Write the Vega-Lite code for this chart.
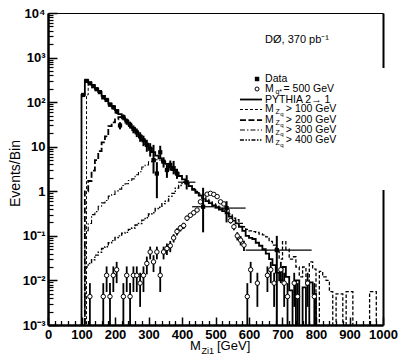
{
"$schema":"https://vega.github.io/schema/vega-lite/v6.json",
"width":335,"height":312,
"autosize":{"type":"none"},
"padding":{"left":48,"top":13,"right":19,"bottom":36},
"background":"white",
"config":{"view":{"stroke":null},"axis":{"domainColor":"black","tickColor":"black","labelColor":"black","titleColor":"black","grid":false}},
"resolve":{"axis":{"x":"independent","y":"independent"}},
"datasets":{
"hist":[
{"s":"PY","x":90,"v":1e-5},{"s":"PY","x":100,"v":145},{"s":"PY","x":110,"v":310},{"s":"PY","x":120,"v":275},{"s":"PY","x":130,"v":240},{"s":"PY","x":140,"v":200},{"s":"PY","x":150,"v":168},{"s":"PY","x":160,"v":138},{"s":"PY","x":170,"v":115},{"s":"PY","x":180,"v":93},{"s":"PY","x":190,"v":80},{"s":"PY","x":200,"v":66},{"s":"PY","x":210,"v":54},{"s":"PY","x":220,"v":45},{"s":"PY","x":230,"v":38},{"s":"PY","x":240,"v":31},{"s":"PY","x":250,"v":26},{"s":"PY","x":260,"v":21},{"s":"PY","x":270,"v":17.5},{"s":"PY","x":280,"v":14},{"s":"PY","x":290,"v":11.5},{"s":"PY","x":300,"v":9.2},{"s":"PY","x":310,"v":7.6},{"s":"PY","x":320,"v":6.3},{"s":"PY","x":330,"v":5.5},{"s":"PY","x":340,"v":4.6},{"s":"PY","x":350,"v":4.1},{"s":"PY","x":360,"v":3.5},{"s":"PY","x":370,"v":3.0},{"s":"PY","x":380,"v":2.6},{"s":"PY","x":390,"v":2.2},{"s":"PY","x":400,"v":1.85},{"s":"PY","x":410,"v":1.5},{"s":"PY","x":420,"v":1.3},{"s":"PY","x":430,"v":1.08},{"s":"PY","x":440,"v":0.92},{"s":"PY","x":450,"v":0.8},{"s":"PY","x":460,"v":0.7},{"s":"PY","x":470,"v":0.6},{"s":"PY","x":480,"v":0.54},{"s":"PY","x":490,"v":0.48},{"s":"PY","x":500,"v":0.44},{"s":"PY","x":510,"v":0.39},{"s":"PY","x":520,"v":0.36},{"s":"PY","x":530,"v":0.32},{"s":"PY","x":540,"v":0.27},{"s":"PY","x":550,"v":0.22},{"s":"PY","x":560,"v":0.19},{"s":"PY","x":570,"v":0.16},{"s":"PY","x":580,"v":0.13},{"s":"PY","x":590,"v":0.1},{"s":"PY","x":600,"v":0.09},{"s":"PY","x":610,"v":0.085},{"s":"PY","x":620,"v":0.07},{"s":"PY","x":630,"v":0.06},{"s":"PY","x":640,"v":0.05},{"s":"PY","x":650,"v":0.04},{"s":"PY","x":660,"v":0.03},{"s":"PY","x":670,"v":0.022},{"s":"PY","x":680,"v":0.015},{"s":"PY","x":690,"v":0.01},{"s":"PY","x":700,"v":0.02},{"s":"PY","x":710,"v":0.012},{"s":"PY","x":720,"v":0.006},{"s":"PY","x":730,"v":1e-5},{"s":"PY","x":740,"v":0.01},{"s":"PY","x":750,"v":1e-5},{"s":"PY","x":760,"v":0.007},{"s":"PY","x":770,"v":1e-5},{"s":"PY","x":780,"v":0.009},{"s":"PY","x":790,"v":0.005},{"s":"PY","x":800,"v":1e-5},
{"s":"Z100","x":100,"v":1e-5},{"s":"Z100","x":115,"v":145},{"s":"Z100","x":120,"v":275},
{"s":"Z200","x":100,"v":1e-5},{"s":"Z200","x":110,"v":1.0},{"s":"Z200","x":120,"v":1.7},{"s":"Z200","x":130,"v":2.9},{"s":"Z200","x":140,"v":5},{"s":"Z200","x":150,"v":8},{"s":"Z200","x":160,"v":12.5},{"s":"Z200","x":170,"v":17},{"s":"Z200","x":180,"v":29},{"s":"Z200","x":190,"v":35},{"s":"Z200","x":200,"v":41},{"s":"Z200","x":210,"v":46},{"s":"Z200","x":220,"v":45},
{"s":"Z300","x":100,"v":1e-5},{"s":"Z300","x":110,"v":0.13},{"s":"Z300","x":120,"v":0.19},{"s":"Z300","x":130,"v":0.3},{"s":"Z300","x":140,"v":0.35},{"s":"Z300","x":150,"v":0.46},{"s":"Z300","x":160,"v":0.55},{"s":"Z300","x":170,"v":0.62},{"s":"Z300","x":180,"v":0.78},{"s":"Z300","x":190,"v":0.85},{"s":"Z300","x":200,"v":1.02},{"s":"Z300","x":210,"v":1.12},{"s":"Z300","x":220,"v":1.35},{"s":"Z300","x":230,"v":1.48},{"s":"Z300","x":240,"v":1.75},{"s":"Z300","x":250,"v":1.9},{"s":"Z300","x":260,"v":2.35},{"s":"Z300","x":270,"v":2.75},{"s":"Z300","x":280,"v":3.5},{"s":"Z300","x":290,"v":3.9},{"s":"Z300","x":300,"v":4.6},{"s":"Z300","x":310,"v":4.7},{"s":"Z300","x":320,"v":5.1},{"s":"Z300","x":330,"v":5.0},{"s":"Z300","x":340,"v":4.6},
{"s":"Z400","x":100,"v":1e-5},{"s":"Z400","x":110,"v":0.02},{"s":"Z400","x":120,"v":0.024},{"s":"Z400","x":130,"v":0.029},{"s":"Z400","x":140,"v":0.037},{"s":"Z400","x":150,"v":0.043},{"s":"Z400","x":160,"v":0.052},{"s":"Z400","x":170,"v":0.057},{"s":"Z400","x":180,"v":0.07},{"s":"Z400","x":190,"v":0.078},{"s":"Z400","x":200,"v":0.092},{"s":"Z400","x":210,"v":0.1},{"s":"Z400","x":220,"v":0.115},{"s":"Z400","x":230,"v":0.12},{"s":"Z400","x":240,"v":0.14},{"s":"Z400","x":250,"v":0.15},{"s":"Z400","x":260,"v":0.175},{"s":"Z400","x":270,"v":0.19},{"s":"Z400","x":280,"v":0.225},{"s":"Z400","x":290,"v":0.255},{"s":"Z400","x":300,"v":0.31},{"s":"Z400","x":310,"v":0.33},{"s":"Z400","x":320,"v":0.41},{"s":"Z400","x":330,"v":0.44},{"s":"Z400","x":340,"v":0.53},{"s":"Z400","x":350,"v":0.6},{"s":"Z400","x":360,"v":0.77},{"s":"Z400","x":370,"v":0.9},{"s":"Z400","x":380,"v":1.18},{"s":"Z400","x":390,"v":1.35},{"s":"Z400","x":400,"v":1.6},{"s":"Z400","x":410,"v":1.5},{"s":"Z400","x":420,"v":1.3},
{"s":"ZT","x":420,"v":1.3},{"s":"ZT","x":430,"v":1.15},{"s":"ZT","x":440,"v":1.0},{"s":"ZT","x":450,"v":0.86},{"s":"ZT","x":460,"v":0.76},{"s":"ZT","x":470,"v":0.66},{"s":"ZT","x":480,"v":0.6},{"s":"ZT","x":490,"v":0.52},{"s":"ZT","x":500,"v":0.48},{"s":"ZT","x":510,"v":0.44},{"s":"ZT","x":520,"v":0.4},{"s":"ZT","x":530,"v":0.36},{"s":"ZT","x":540,"v":0.31},{"s":"ZT","x":550,"v":0.25},{"s":"ZT","x":560,"v":0.23},{"s":"ZT","x":570,"v":0.19},{"s":"ZT","x":580,"v":0.16},{"s":"ZT","x":590,"v":0.14},{"s":"ZT","x":600,"v":0.13},{"s":"ZT","x":610,"v":0.125},{"s":"ZT","x":620,"v":0.12},{"s":"ZT","x":630,"v":0.11},{"s":"ZT","x":640,"v":0.105},{"s":"ZT","x":650,"v":0.095},{"s":"ZT","x":660,"v":0.075},{"s":"ZT","x":670,"v":0.062},{"s":"ZT","x":680,"v":0.045},{"s":"ZT","x":690,"v":0.03},{"s":"ZT","x":700,"v":0.074},{"s":"ZT","x":710,"v":0.05},{"s":"ZT","x":720,"v":0.03},{"s":"ZT","x":730,"v":0.034},{"s":"ZT","x":740,"v":0.02},{"s":"ZT","x":750,"v":0.012},{"s":"ZT","x":760,"v":0.02},{"s":"ZT","x":770,"v":0.008},{"s":"ZT","x":780,"v":0.026},{"s":"ZT","x":790,"v":0.018},{"s":"ZT","x":800,"v":1e-5},{"s":"ZT","x":810,"v":0.016},{"s":"ZT","x":820,"v":0.012},{"s":"ZT","x":830,"v":0.01},{"s":"ZT","x":840,"v":0.0056},{"s":"ZT","x":850,"v":1e-5},{"s":"ZT","x":860,"v":0.005},{"s":"ZT","x":870,"v":0.005},{"s":"ZT","x":880,"v":1e-5},{"s":"ZT","x":890,"v":0.0056},{"s":"ZT","x":900,"v":0.0056},{"s":"ZT","x":910,"v":1e-5},{"s":"ZT","x":960,"v":0.0056},{"s":"ZT","x":970,"v":0.0056},{"s":"ZT","x":980,"v":1e-5}
],
"sig":[
{"m":125,"v":0.00435,"lo":1e-5,"hi":0.0087},{"m":165,"v":0.00435,"lo":1e-5,"hi":0.0087},{"m":175,"v":0.013,"lo":0.0055,"hi":0.0206},{"m":185,"v":0.00435,"lo":1e-5,"hi":0.0087},{"m":195,"v":0.013,"lo":0.0055,"hi":0.0206},{"m":205,"v":0.0174,"lo":0.0087,"hi":0.0261},{"m":225,"v":0.00435,"lo":1e-5,"hi":0.0087},{"m":235,"v":0.013,"lo":0.0055,"hi":0.0206},{"m":245,"v":0.00435,"lo":1e-5,"hi":0.0087},{"m":255,"v":0.013,"lo":0.0055,"hi":0.0206},{"m":265,"v":0.013,"lo":0.0055,"hi":0.0206},{"m":275,"v":0.0087,"lo":0.00255,"hi":0.01485},{"m":285,"v":0.013,"lo":0.0055,"hi":0.0206},{"m":295,"v":0.024,"lo":0.0137,"hi":0.0343},{"m":305,"v":0.0435,"lo":0.0297,"hi":0.0573},{"m":315,"v":0.0261,"lo":0.0154,"hi":0.0368},{"m":325,"v":0.0435,"lo":0.0297,"hi":0.0573},{"m":335,"v":0.013,"lo":0.0055,"hi":0.0206},{"m":345,"v":0.0435,"lo":0.0297,"hi":0.0573},{"m":355,"v":0.052,"lo":0.037,"hi":0.067},{"m":365,"v":0.06,"lo":0.043,"hi":0.077},{"m":375,"v":0.09,"lo":0.071,"hi":0.109},{"m":385,"v":0.125,"lo":0.102,"hi":0.148},{"m":395,"v":0.15,"lo":0.125,"hi":0.175},{"m":405,"v":0.17,"lo":0.143,"hi":0.197},{"m":415,"v":0.25,"lo":0.217,"hi":0.283},{"m":425,"v":0.29,"lo":0.255,"hi":0.325},{"m":435,"v":0.33,"lo":0.292,"hi":0.368},{"m":445,"v":0.38,"lo":0.339,"hi":0.421},{"m":455,"v":0.58,"lo":0.53,"hi":0.63},{"m":465,"v":0.75,"lo":0.693,"hi":0.807},{"m":475,"v":0.86,"lo":0.8,"hi":0.92},{"m":485,"v":0.9,"lo":0.837,"hi":0.963},{"m":495,"v":0.85,"lo":0.789,"hi":0.911},{"m":505,"v":0.76,"lo":0.702,"hi":0.818},{"m":515,"v":0.58,"lo":0.53,"hi":0.63},{"m":525,"v":0.52,"lo":0.472,"hi":0.568},{"m":535,"v":0.37,"lo":0.33,"hi":0.41},{"m":545,"v":0.22,"lo":0.189,"hi":0.251},{"m":555,"v":0.16,"lo":0.134,"hi":0.186},{"m":565,"v":0.1,"lo":0.079,"hi":0.121},{"m":575,"v":0.08,"lo":0.061,"hi":0.099},{"m":585,"v":0.062,"lo":0.046,"hi":0.078},{"m":595,"v":0.00435,"lo":1e-5,"hi":0.0087},{"m":605,"v":0.0174,"lo":0.0087,"hi":0.0261},{"m":625,"v":0.0087,"lo":0.00255,"hi":0.01485},{"m":655,"v":0.013,"lo":0.0055,"hi":0.0206},{"m":665,"v":0.0174,"lo":0.0087,"hi":0.0261},{"m":675,"v":0.0087,"lo":0.00255,"hi":0.01485},{"m":695,"v":0.0174,"lo":0.0087,"hi":0.0261},{"m":705,"v":0.0087,"lo":0.00255,"hi":0.01485},{"m":715,"v":0.00435,"lo":1e-5,"hi":0.0087},{"m":735,"v":0.0087,"lo":0.00255,"hi":0.01485},{"m":745,"v":0.00435,"lo":1e-5,"hi":0.0087},{"m":775,"v":0.0087,"lo":0.00255,"hi":0.01485},{"m":795,"v":0.00435,"lo":1e-5,"hi":0.0087}
],
"obs":[
{"m":105,"v":145,"lo":133,"hi":157},{"m":115,"v":300,"lo":283,"hi":317},{"m":125,"v":265,"lo":249,"hi":281},{"m":135,"v":228,"lo":213,"hi":243},{"m":145,"v":195,"lo":181,"hi":209},{"m":155,"v":168,"lo":155,"hi":181},{"m":165,"v":128,"lo":117,"hi":139},{"m":175,"v":112,"lo":101,"hi":123},{"m":185,"v":88,"lo":79,"hi":97},{"m":195,"v":77,"lo":68,"hi":86},{"m":205,"v":62,"lo":54,"hi":70},{"m":215,"v":30,"lo":24.5,"hi":35.5},{"m":225,"v":46,"lo":39,"hi":53},{"m":235,"v":37,"lo":31,"hi":43},{"m":245,"v":31,"lo":25.5,"hi":36.5},{"m":255,"v":25,"lo":20,"hi":30},{"m":265,"v":21,"lo":16.4,"hi":25.6},{"m":275,"v":17,"lo":12.9,"hi":21.1},{"m":285,"v":14,"lo":10.3,"hi":17.7},{"m":295,"v":11,"lo":7.7,"hi":14.3},{"m":305,"v":9,"lo":6,"hi":12},{"m":315,"v":5,"lo":2.5,"hi":11},{"m":325,"v":2.5,"lo":0.7,"hi":4.5},{"m":335,"v":7.5,"lo":5.5,"hi":10.5},{"m":345,"v":4.6,"lo":3.4,"hi":5.8},{"m":355,"v":3.0,"lo":2.0,"hi":4.0},{"m":365,"v":3.9,"lo":2.9,"hi":4.9},{"m":375,"v":3.3,"lo":2.4,"hi":4.8},{"m":385,"v":2.5,"lo":1.9,"hi":3.2},
{"m":414,"v":1.6,"lo":1.1,"hi":2.3,"xlo":388,"xhi":440},{"m":463,"v":0.45,"lo":0.12,"hi":1.2,"xlo":430,"xhi":497},{"m":533,"v":0.42,"lo":0.2,"hi":0.6,"xlo":497,"xhi":590},{"m":683,"v":0.048,"lo":1e-5,"hi":0.1,"xlo":590,"xhi":787}
],
"one":[{}]
},
"layer":[
{"data":{"name":"hist"},"transform":[{"filter":"datum.s == 'ZT'"}],
 "mark":{"type":"line","interpolate":"step-after","clip":true,"color":"black","strokeWidth":1.3,"strokeDash":[3.5,2]},
 "encoding":{"x":{"field":"x","type":"quantitative","scale":{"domain":[0,1000],"nice":false,"zero":false},"axis":null},"y":{"field":"v","type":"quantitative","scale":{"type":"log","domain":[0.001,10000],"nice":false},"axis":null}}},
{"data":{"name":"hist"},"transform":[{"filter":"datum.s == 'PY'"}],
 "mark":{"type":"line","interpolate":"step-after","clip":true,"color":"black","strokeWidth":1.8},
 "encoding":{"x":{"field":"x","type":"quantitative","scale":{"domain":[0,1000],"nice":false,"zero":false},
   "axis":{"orient":"bottom","values":[0,100,200,300,400,500,600,700,800,900,1000],"format":"d","tickSize":-8,"tickWidth":1.5,"domainWidth":2.5,"labelFont":"Liberation Sans","labelFontSize":13,"labelFontWeight":"bold","labelPadding":11,"labelFlush":false,"labelOverlap":false,"title":null,"grid":false}},
  "y":{"field":"v","type":"quantitative","scale":{"type":"log","domain":[0.001,10000],"nice":false},
   "axis":{"orient":"left","values":[0.001,0.01,0.1,1,10,100,1000,10000],"labelExpr":"datum.value >= 9999 ? '10⁴' : datum.value >= 999 ? '10³' : datum.value >= 99 ? '10²' : datum.value >= 9 ? '10' : datum.value >= 0.9 ? '1' : datum.value >= 0.09 ? '10⁻¹' : datum.value >= 0.009 ? '10⁻²' : '10⁻³'","tickSize":-9,"tickWidth":1.5,"domainWidth":2.5,"labelFont":"Liberation Sans","labelFontSize":13,"labelFontWeight":"bold","labelPadding":12,"labelFlush":false,"labelOverlap":false,"title":"Events/Bin","titleFont":"Liberation Sans","titleFontSize":14,"titleFontWeight":"normal","titleX":-33,"titleY":160,"titleAngle":-90,"titleBaseline":"middle","titleAlign":"center","grid":false}}}},
{"data":{"name":"hist"},"transform":[{"filter":"datum.s == 'Z100'"}],
 "mark":{"type":"line","interpolate":"step-after","clip":true,"color":"black","strokeWidth":1,"strokeDash":[3,2]},
 "encoding":{"x":{"field":"x","type":"quantitative","scale":{"domain":[0,1000],"nice":false,"zero":false},
   "axis":{"orient":"bottom","values":[20,40,60,80,120,140,160,180,220,240,260,280,320,340,360,380,420,440,460,480,520,540,560,580,620,640,660,680,720,740,760,780,820,840,860,880,920,940,960,980],"tickSize":-4.5,"tickWidth":1.3,"labels":false,"domain":false,"title":null,"grid":false}},
  "y":{"field":"v","type":"quantitative","scale":{"type":"log","domain":[0.001,10000],"nice":false},
   "axis":{"orient":"left","values":[0.002,0.003,0.004,0.005,0.006,0.007,0.008,0.009,0.02,0.03,0.04,0.05,0.06,0.07,0.08,0.09,0.2,0.3,0.4,0.5,0.6,0.7,0.8,0.9,2,3,4,5,6,7,8,9,20,30,40,50,60,70,80,90,200,300,400,500,600,700,800,900,2000,3000,4000,5000,6000,7000,8000,9000],"tickSize":-5,"tickWidth":1.2,"labels":false,"domain":false,"title":null,"grid":false}}}},
{"data":{"name":"hist"},"transform":[{"filter":"datum.s == 'Z200'"}],
 "mark":{"type":"line","interpolate":"step-after","clip":true,"color":"black","strokeWidth":1.8,"strokeDash":[6,2.5]},
 "encoding":{"x":{"field":"x","type":"quantitative","scale":{"domain":[0,1000],"nice":false,"zero":false},
   "axis":{"orient":"top","domainWidth":1,"ticks":false,"labels":false,"title":null,"grid":false}},
  "y":{"field":"v","type":"quantitative","scale":{"type":"log","domain":[0.001,10000],"nice":false},
   "axis":{"orient":"right","domainWidth":2,"ticks":false,"labels":false,"title":null,"grid":false}}}},
{"data":{"name":"hist"},"transform":[{"filter":"datum.s == 'Z300'"}],
 "mark":{"type":"line","interpolate":"step-after","clip":true,"color":"black","strokeWidth":1.1,"strokeDash":[5,2,1.5,2]},
 "encoding":{"x":{"field":"x","type":"quantitative","scale":{"domain":[0,1000],"nice":false,"zero":false},"axis":null},"y":{"field":"v","type":"quantitative","scale":{"type":"log","domain":[0.001,10000],"nice":false},"axis":null}}},
{"data":{"name":"hist"},"transform":[{"filter":"datum.s == 'Z400'"}],
 "mark":{"type":"line","interpolate":"step-after","clip":true,"color":"black","strokeWidth":1.4,"strokeDash":[4,1.5,1.5,1.5,1.5,1.5]},
 "encoding":{"x":{"field":"x","type":"quantitative","scale":{"domain":[0,1000],"nice":false,"zero":false},"axis":null},"y":{"field":"v","type":"quantitative","scale":{"type":"log","domain":[0.001,10000],"nice":false},"axis":null}}},
{"data":{"name":"sig"},
 "mark":{"type":"rule","clip":true,"color":"black","strokeWidth":1.8},
 "encoding":{"x":{"field":"m","type":"quantitative","scale":{"domain":[0,1000],"nice":false,"zero":false},"axis":null},"y":{"field":"lo","type":"quantitative","scale":{"type":"log","domain":[0.001,10000],"nice":false},"axis":null},"y2":{"field":"hi"}}},
{"data":{"name":"sig"},
 "mark":{"type":"point","shape":"circle","size":20,"filled":true,"fill":"white","stroke":"black","strokeWidth":1,"opacity":1,"clip":true},
 "encoding":{"x":{"field":"m","type":"quantitative","scale":{"domain":[0,1000],"nice":false,"zero":false},"axis":null},"y":{"field":"v","type":"quantitative","scale":{"type":"log","domain":[0.001,10000],"nice":false},"axis":null}}},
{"data":{"name":"obs"},
 "mark":{"type":"rule","clip":true,"color":"black","strokeWidth":2},
 "encoding":{"x":{"field":"m","type":"quantitative","scale":{"domain":[0,1000],"nice":false,"zero":false},"axis":null},"y":{"field":"lo","type":"quantitative","scale":{"type":"log","domain":[0.001,10000],"nice":false},"axis":null},"y2":{"field":"hi"}}},
{"data":{"name":"obs"},"transform":[{"filter":{"field":"xlo","valid":true}}],
 "mark":{"type":"rule","clip":true,"color":"black","strokeWidth":1.2},
 "encoding":{"x":{"field":"xlo","type":"quantitative","scale":{"domain":[0,1000],"nice":false,"zero":false},"axis":null},"x2":{"field":"xhi"},"y":{"field":"v","type":"quantitative","scale":{"type":"log","domain":[0.001,10000],"nice":false},"axis":null}}},
{"data":{"name":"obs"},
 "mark":{"type":"point","shape":"square","size":18,"filled":true,"color":"black","opacity":1,"clip":true},
 "encoding":{"x":{"field":"m","type":"quantitative","scale":{"domain":[0,1000],"nice":false,"zero":false},"axis":null},"y":{"field":"v","type":"quantitative","scale":{"type":"log","domain":[0.001,10000],"nice":false},"axis":null}}},
{"data":{"name":"one"},"mark":{"type":"rect","fill":"white","stroke":null},
 "encoding":{"x":{"datum":560,"type":"quantitative","scale":{"domain":[0,1000],"nice":false,"zero":false},"axis":null},"x2":{"datum":1025},"y":{"datum":583,"type":"quantitative","scale":{"type":"log","domain":[0.001,10000],"nice":false},"axis":null},"y2":{"datum":1.07}}},
{"data":{"name":"one"},"mark":{"type":"text","align":"left","baseline":"middle","font":"Liberation Sans","fontSize":11,"color":"black","text":"DØ, 370 pb⁻¹"},
 "encoding":{"x":{"datum":648,"type":"quantitative","scale":{"domain":[0,1000],"nice":false,"zero":false},"axis":null},"y":{"datum":2477,"type":"quantitative","scale":{"type":"log","domain":[0.001,10000],"nice":false},"axis":null}}},
{"data":{"name":"one"},"mark":{"type":"point","shape":"square","size":20,"filled":true,"color":"black","opacity":1},
 "encoding":{"x":{"datum":624,"type":"quantitative","scale":{"domain":[0,1000],"nice":false,"zero":false},"axis":null},"y":{"datum":330.5,"type":"quantitative","scale":{"type":"log","domain":[0.001,10000],"nice":false},"axis":null}}},
{"data":{"name":"one"},"mark":{"type":"point","shape":"circle","size":16,"filled":true,"fill":"white","stroke":"black","strokeWidth":1,"opacity":1},
 "encoding":{"x":{"datum":624,"type":"quantitative","scale":{"domain":[0,1000],"nice":false,"zero":false},"axis":null},"y":{"datum":197.2,"type":"quantitative","scale":{"type":"log","domain":[0.001,10000],"nice":false},"axis":null}}},
{"data":{"name":"one"},"mark":{"type":"rule","color":"black","strokeWidth":1.8},
 "encoding":{"x":{"datum":573,"type":"quantitative","scale":{"domain":[0,1000],"nice":false,"zero":false},"axis":null},"x2":{"datum":639},"y":{"datum":114.6,"type":"quantitative","scale":{"type":"log","domain":[0.001,10000],"nice":false},"axis":null}}},
{"data":{"name":"one"},"mark":{"type":"rule","color":"black","strokeWidth":1,"strokeDash":[3,2]},
 "encoding":{"x":{"datum":573,"type":"quantitative","scale":{"domain":[0,1000],"nice":false,"zero":false},"axis":null},"x2":{"datum":639},"y":{"datum":68.4,"type":"quantitative","scale":{"type":"log","domain":[0.001,10000],"nice":false},"axis":null}}},
{"data":{"name":"one"},"mark":{"type":"rule","color":"black","strokeWidth":1.8,"strokeDash":[6,2.5]},
 "encoding":{"x":{"datum":573,"type":"quantitative","scale":{"domain":[0,1000],"nice":false,"zero":false},"axis":null},"x2":{"datum":639},"y":{"datum":39.7,"type":"quantitative","scale":{"type":"log","domain":[0.001,10000],"nice":false},"axis":null}}},
{"data":{"name":"one"},"mark":{"type":"rule","color":"black","strokeWidth":1.1,"strokeDash":[5,2,1.5,2]},
 "encoding":{"x":{"datum":573,"type":"quantitative","scale":{"domain":[0,1000],"nice":false,"zero":false},"axis":null},"x2":{"datum":639},"y":{"datum":23.7,"type":"quantitative","scale":{"type":"log","domain":[0.001,10000],"nice":false},"axis":null}}},
{"data":{"name":"one"},"mark":{"type":"rule","color":"black","strokeWidth":1.4,"strokeDash":[4,1.5,1.5,1.5,1.5,1.5]},
 "encoding":{"x":{"datum":573,"type":"quantitative","scale":{"domain":[0,1000],"nice":false,"zero":false},"axis":null},"x2":{"datum":639},"y":{"datum":14.1,"type":"quantitative","scale":{"type":"log","domain":[0.001,10000],"nice":false},"axis":null}}},
{"data":{"name":"one"},"mark":{"type":"text","align":"left","baseline":"middle","font":"Liberation Sans","fontSize":10.5,"color":"black","text":"Data"},
 "encoding":{"x":{"datum":648,"type":"quantitative","scale":{"domain":[0,1000],"nice":false,"zero":false},"axis":null},"y":{"datum":330.5,"type":"quantitative","scale":{"type":"log","domain":[0.001,10000],"nice":false},"axis":null}}},
{"data":{"name":"one"},"mark":{"type":"text","align":"left","baseline":"middle","font":"Liberation Sans","fontSize":10.5,"color":"black","text":"M"},
 "encoding":{"x":{"datum":648,"type":"quantitative","scale":{"domain":[0,1000],"nice":false,"zero":false},"axis":null},"y":{"datum":197.2,"type":"quantitative","scale":{"type":"log","domain":[0.001,10000],"nice":false},"axis":null}}},
{"data":{"name":"one"},"mark":{"type":"text","align":"left","baseline":"middle","font":"Liberation Sans","fontSize":7,"color":"black","text":"q*"},
 "encoding":{"x":{"datum":679,"type":"quantitative","scale":{"domain":[0,1000],"nice":false,"zero":false},"axis":null},"y":{"datum":169,"type":"quantitative","scale":{"type":"log","domain":[0.001,10000],"nice":false},"axis":null}}},
{"data":{"name":"one"},"mark":{"type":"text","align":"left","baseline":"middle","font":"Liberation Sans","fontSize":10.5,"color":"black","text":"= 500 GeV"},
 "encoding":{"x":{"datum":703,"type":"quantitative","scale":{"domain":[0,1000],"nice":false,"zero":false},"axis":null},"y":{"datum":197.2,"type":"quantitative","scale":{"type":"log","domain":[0.001,10000],"nice":false},"axis":null}}},
{"data":{"name":"one"},"mark":{"type":"text","align":"left","baseline":"middle","font":"Liberation Sans","fontSize":10.5,"color":"black","text":"PYTHIA  2→ 1"},
 "encoding":{"x":{"datum":648,"type":"quantitative","scale":{"domain":[0,1000],"nice":false,"zero":false},"axis":null},"y":{"datum":114.6,"type":"quantitative","scale":{"type":"log","domain":[0.001,10000],"nice":false},"axis":null}}},
{"data":{"name":"one"},"mark":{"type":"text","align":"left","baseline":"middle","font":"Liberation Sans","fontSize":10.5,"color":"black","text":"M"},
 "encoding":{"x":{"datum":648,"type":"quantitative","scale":{"domain":[0,1000],"nice":false,"zero":false},"axis":null},"y":{"datum":68.4,"type":"quantitative","scale":{"type":"log","domain":[0.001,10000],"nice":false},"axis":null}}},
{"data":{"name":"one"},"mark":{"type":"text","align":"left","baseline":"middle","font":"Liberation Sans","fontSize":7,"color":"black","text":"Z"},
 "encoding":{"x":{"datum":679,"type":"quantitative","scale":{"domain":[0,1000],"nice":false,"zero":false},"axis":null},"y":{"datum":60.1,"type":"quantitative","scale":{"type":"log","domain":[0.001,10000],"nice":false},"axis":null}}},
{"data":{"name":"one"},"mark":{"type":"text","align":"left","baseline":"middle","font":"Liberation Sans","fontSize":6,"color":"black","text":"q"},
 "encoding":{"x":{"datum":693,"type":"quantitative","scale":{"domain":[0,1000],"nice":false,"zero":false},"axis":null},"y":{"datum":54.2,"type":"quantitative","scale":{"type":"log","domain":[0.001,10000],"nice":false},"axis":null}}},
{"data":{"name":"one"},"mark":{"type":"text","align":"left","baseline":"middle","font":"Liberation Sans","fontSize":10.5,"color":"black","text":"> 100 GeV"},
 "encoding":{"x":{"datum":710,"type":"quantitative","scale":{"domain":[0,1000],"nice":false,"zero":false},"axis":null},"y":{"datum":68.4,"type":"quantitative","scale":{"type":"log","domain":[0.001,10000],"nice":false},"axis":null}}},
{"data":{"name":"one"},"mark":{"type":"text","align":"left","baseline":"middle","font":"Liberation Sans","fontSize":10.5,"color":"black","text":"M"},
 "encoding":{"x":{"datum":648,"type":"quantitative","scale":{"domain":[0,1000],"nice":false,"zero":false},"axis":null},"y":{"datum":39.7,"type":"quantitative","scale":{"type":"log","domain":[0.001,10000],"nice":false},"axis":null}}},
{"data":{"name":"one"},"mark":{"type":"text","align":"left","baseline":"middle","font":"Liberation Sans","fontSize":7,"color":"black","text":"Z"},
 "encoding":{"x":{"datum":679,"type":"quantitative","scale":{"domain":[0,1000],"nice":false,"zero":false},"axis":null},"y":{"datum":34.9,"type":"quantitative","scale":{"type":"log","domain":[0.001,10000],"nice":false},"axis":null}}},
{"data":{"name":"one"},"mark":{"type":"text","align":"left","baseline":"middle","font":"Liberation Sans","fontSize":6,"color":"black","text":"q"},
 "encoding":{"x":{"datum":693,"type":"quantitative","scale":{"domain":[0,1000],"nice":false,"zero":false},"axis":null},"y":{"datum":31.5,"type":"quantitative","scale":{"type":"log","domain":[0.001,10000],"nice":false},"axis":null}}},
{"data":{"name":"one"},"mark":{"type":"text","align":"left","baseline":"middle","font":"Liberation Sans","fontSize":10.5,"color":"black","text":"> 200 GeV"},
 "encoding":{"x":{"datum":710,"type":"quantitative","scale":{"domain":[0,1000],"nice":false,"zero":false},"axis":null},"y":{"datum":39.7,"type":"quantitative","scale":{"type":"log","domain":[0.001,10000],"nice":false},"axis":null}}},
{"data":{"name":"one"},"mark":{"type":"text","align":"left","baseline":"middle","font":"Liberation Sans","fontSize":10.5,"color":"black","text":"M"},
 "encoding":{"x":{"datum":648,"type":"quantitative","scale":{"domain":[0,1000],"nice":false,"zero":false},"axis":null},"y":{"datum":23.7,"type":"quantitative","scale":{"type":"log","domain":[0.001,10000],"nice":false},"axis":null}}},
{"data":{"name":"one"},"mark":{"type":"text","align":"left","baseline":"middle","font":"Liberation Sans","fontSize":7,"color":"black","text":"Z"},
 "encoding":{"x":{"datum":679,"type":"quantitative","scale":{"domain":[0,1000],"nice":false,"zero":false},"axis":null},"y":{"datum":20.8,"type":"quantitative","scale":{"type":"log","domain":[0.001,10000],"nice":false},"axis":null}}},
{"data":{"name":"one"},"mark":{"type":"text","align":"left","baseline":"middle","font":"Liberation Sans","fontSize":6,"color":"black","text":"q"},
 "encoding":{"x":{"datum":693,"type":"quantitative","scale":{"domain":[0,1000],"nice":false,"zero":false},"axis":null},"y":{"datum":18.8,"type":"quantitative","scale":{"type":"log","domain":[0.001,10000],"nice":false},"axis":null}}},
{"data":{"name":"one"},"mark":{"type":"text","align":"left","baseline":"middle","font":"Liberation Sans","fontSize":10.5,"color":"black","text":"> 300 GeV"},
 "encoding":{"x":{"datum":710,"type":"quantitative","scale":{"domain":[0,1000],"nice":false,"zero":false},"axis":null},"y":{"datum":23.7,"type":"quantitative","scale":{"type":"log","domain":[0.001,10000],"nice":false},"axis":null}}},
{"data":{"name":"one"},"mark":{"type":"text","align":"left","baseline":"middle","font":"Liberation Sans","fontSize":10.5,"color":"black","text":"M"},
 "encoding":{"x":{"datum":648,"type":"quantitative","scale":{"domain":[0,1000],"nice":false,"zero":false},"axis":null},"y":{"datum":14.1,"type":"quantitative","scale":{"type":"log","domain":[0.001,10000],"nice":false},"axis":null}}},
{"data":{"name":"one"},"mark":{"type":"text","align":"left","baseline":"middle","font":"Liberation Sans","fontSize":7,"color":"black","text":"Z"},
 "encoding":{"x":{"datum":679,"type":"quantitative","scale":{"domain":[0,1000],"nice":false,"zero":false},"axis":null},"y":{"datum":12.4,"type":"quantitative","scale":{"type":"log","domain":[0.001,10000],"nice":false},"axis":null}}},
{"data":{"name":"one"},"mark":{"type":"text","align":"left","baseline":"middle","font":"Liberation Sans","fontSize":6,"color":"black","text":"q"},
 "encoding":{"x":{"datum":693,"type":"quantitative","scale":{"domain":[0,1000],"nice":false,"zero":false},"axis":null},"y":{"datum":11.2,"type":"quantitative","scale":{"type":"log","domain":[0.001,10000],"nice":false},"axis":null}}},
{"data":{"name":"one"},"mark":{"type":"text","align":"left","baseline":"middle","font":"Liberation Sans","fontSize":10.5,"color":"black","text":"> 400 GeV"},
 "encoding":{"x":{"datum":710,"type":"quantitative","scale":{"domain":[0,1000],"nice":false,"zero":false},"axis":null},"y":{"datum":14.1,"type":"quantitative","scale":{"type":"log","domain":[0.001,10000],"nice":false},"axis":null}}},
{"data":{"name":"one"},"mark":{"type":"text","align":"left","baseline":"middle","font":"Liberation Sans","fontSize":13,"color":"black","text":"M"},
 "encoding":{"x":{"datum":424,"type":"quantitative","scale":{"domain":[0,1000],"nice":false,"zero":false},"axis":null},"y":{"datum":0.000338,"type":"quantitative","scale":{"type":"log","domain":[0.001,10000],"nice":false},"axis":null}}},
{"data":{"name":"one"},"mark":{"type":"text","align":"left","baseline":"middle","font":"Liberation Sans","fontSize":9,"color":"black","text":"Zi1"},
 "encoding":{"x":{"datum":458,"type":"quantitative","scale":{"domain":[0,1000],"nice":false,"zero":false},"axis":null},"y":{"datum":0.000261,"type":"quantitative","scale":{"type":"log","domain":[0.001,10000],"nice":false},"axis":null}}},
{"data":{"name":"one"},"mark":{"type":"text","align":"left","baseline":"middle","font":"Liberation Sans","fontSize":13,"color":"black","text":"[GeV]"},
 "encoding":{"x":{"datum":504.5,"type":"quantitative","scale":{"domain":[0,1000],"nice":false,"zero":false},"axis":null},"y":{"datum":0.000338,"type":"quantitative","scale":{"type":"log","domain":[0.001,10000],"nice":false},"axis":null}}}
]
}
